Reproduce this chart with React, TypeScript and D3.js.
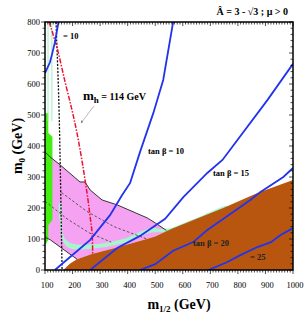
import React from 'react';
import * as d3 from 'd3';

// tan beta contours [m1/2, m0]
const tb10Top = [[100, 635], [118, 670], [125, 694], [136, 735], [149, 800]];
const tb10 = [[136, 0], [191, 42], [264, 97], [336, 177], [380, 242], [409, 281], [445, 381], [493, 506], [529, 613], [565, 800]];
const tb15 = [[264, 0], [362, 71], [445, 110], [536, 165], [602, 235], [689, 313], [744, 355], [907, 548], [1000, 665]];
const tb20 = [[445, 0], [500, 19], [565, 62], [638, 90], [689, 129], [809, 203], [845, 226], [882, 252], [965, 300], [1000, 329]];
const tb25 = [[693, 0], [760, 25], [809, 48], [871, 74], [920, 90], [955, 113], [1000, 135]];

// m_h = 114 GeV contour
const higgs = [[115, 800], [144, 716], [173, 606], [198, 516], [216, 442], [238, 332], [256, 226], [264, 170], [271, 119], [273, 48]];
// black dashed vertical
const chargino = [[140, 800], [150, 550], [155, 350], [158, 200], [160, 100], [162, 0]];
// grey dashed
const dashA = [[100, 222], [180, 165], [260, 120], [340, 90]];
const dashB = [[160, 250], [250, 190], [350, 140], [470, 100]];

// regions
const stauEdge = [[167, 0], [190, 20], [216, 35], [270, 52], [340, 68], [450, 95], [500, 108], [540, 125], [565, 135], [650, 165], [747, 200], [871, 248], [1000, 290]];
const pinkTop = [[100, 381], [118, 365], [155, 339], [227, 284], [245, 284], [264, 258], [307, 226], [362, 210], [471, 168], [500, 152], [540, 128]];
const pinkLow = [[216, 35], [155, 74], [120, 97], [100, 106]];
const greenReg = [[100, 506], [112, 506], [112, 442], [127, 430], [127, 161], [112, 145], [112, 97], [100, 80]];
const coannUpper = [[158, 215], [160, 150], [168, 108], [190, 88], [264, 82], [382, 100], [482, 135], [540, 133], [650, 168], [760, 207]];
const coannLower = [[760, 200], [650, 161], [540, 124], [482, 120], [382, 86], [264, 68], [185, 72], [162, 100], [154, 150], [152, 215]];
const greenLines = [111, 125];

const xTicks = [100, 200, 300, 400, 500, 600, 700, 800, 900, 1000];
const yTicks = [0, 100, 200, 300, 400, 500, 600, 700, 800];

const W = 304, H = 319;
const x = d3.scaleLinear().domain([100, 1000]).range([45, 293]);
const y = d3.scaleLinear().domain([0, 800]).range([270, 22]);

const line = d3.line<number[]>().x(d => x(d[0])).y(d => y(d[1])).curve(d3.curveLinear);
const smooth = d3.line<number[]>().x(d => x(d[0])).y(d => y(d[1])).curve(d3.curveCatmullRom);
const poly = (pts: number[][]) => line(pts) + 'Z';
const polySmooth = (pts: number[][]) => d3.line<number[]>().x(d => x(d[0])).y(d => y(d[1])).curve(d3.curveCatmullRomClosed)(pts)!;

export default function App() {
  const brown = poly([...stauEdge, [1000, 0], [167, 0]]);
  const pink = poly([...pinkTop, ...stauEdge.filter(p => p[0] >= 216 && p[0] <= 540).reverse(), ...pinkLow.slice(1)]);
  const coann = polySmooth([...coannUpper, ...coannLower]);
  const minorX = d3.range(100, 1001, 10);
  const minorY = d3.range(0, 801, 20);
  const serif = '"Liberation Serif", "DejaVu Serif", serif';
  return (
    <div style={{ position: 'absolute', left: 0, top: 0 }}>
      <svg width={W} height={H} style={{ display: 'block', background: '#fff' }} fontFamily={serif}>
        <defs>
          <clipPath id="plot"><rect x={45} y={22} width={248} height={248} /></clipPath>
          <marker id="arr" viewBox="0 0 10 10" refX="9" refY="5" markerWidth="5" markerHeight="5" orient="auto">
            <path d="M0,0L10,5L0,10Z" fill="#888" />
          </marker>
        </defs>
        <g clipPath="url(#plot)">
          <path d={pink} fill="#f5a2f2" />
          <path d={coann} fill="#a6f5cc" />
          <path d={brown} fill="#b8560f" />
          <path d={poly(greenReg)} fill="#44ee11" />
          {greenLines.map(v => (
            <line key={v} x1={x(v)} x2={x(v)} y1={y(800)} y2={y(480)} stroke="#9deec0" strokeWidth={1} />
          ))}
          <path d={line(pinkTop)!} fill="none" stroke="#333" strokeWidth={1} />
          <path d={line(pinkLow)!} fill="none" stroke="#333" strokeWidth={1} />
          <path d={line(dashA)!} fill="none" stroke="#555" strokeWidth={1} strokeDasharray="2.5,2" />
          <path d={line(dashB)!} fill="none" stroke="#555" strokeWidth={1} strokeDasharray="2.5,2" />
          <path d={smooth(chargino)!} fill="none" stroke="#111" strokeWidth={1.3} strokeDasharray="2,1.5" />
          <path d={smooth(higgs)!} fill="none" stroke="#ee1133" strokeWidth={1.5} strokeDasharray="5,1.5,1.5,1.5" />
          {[tb10Top, tb10, tb15, tb20, tb25].map((s, i) => (
            <path key={i} d={line(s)!} fill="none" stroke="#2233ee" strokeWidth={1.8} />
          ))}
        </g>
        {/* frame and ticks */}
        <rect x={45} y={22} width={248} height={248} fill="none" stroke="#000" strokeWidth={1.5} />
        {minorX.map(v => (
          <g key={'x' + v}>
            <line x1={x(v)} x2={x(v)} y1={270} y2={v % 100 === 0 ? 274 : 272.5} stroke="#000" strokeWidth={0.7} />
            <line x1={x(v)} x2={x(v)} y1={22} y2={v % 100 === 0 ? 26 : 24.5} stroke="#000" strokeWidth={0.7} />
          </g>
        ))}
        {minorY.map(v => (
          <g key={'y' + v}>
            <line x1={45} x2={v % 100 === 0 ? 41 : 42.5} y1={y(v)} y2={y(v)} stroke="#000" strokeWidth={0.7} />
            <line x1={293} x2={v % 100 === 0 ? 289 : 290.5} y1={y(v)} y2={y(v)} stroke="#000" strokeWidth={0.7} />
          </g>
        ))}
        {xTicks.map(v => (
          <text key={v} x={x(v) + 2} y={288} fontSize={8.5} textAnchor="middle">{v}</text>
        ))}
        {yTicks.map(v => (
          <text key={v} x={40} y={y(v) + 3} fontSize={8.5} textAnchor="end">{v}</text>
        ))}
        {/* axis titles */}
        <text x={179} y={309} fontSize={14} fontWeight="bold" textAnchor="middle">
          m<tspan fontSize={9} dy={3}>1/2</tspan><tspan dy={-3}> (GeV)</tspan>
        </text>
        <text transform="translate(22,146) rotate(-90)" fontSize={14} fontWeight="bold" textAnchor="middle">
          m<tspan fontSize={9} dy={3}>0</tspan><tspan dy={-3}> (GeV)</tspan>
        </text>
        <text x={288} y={15} fontSize={10} fontWeight="bold" textAnchor="end">Â = 3 - √3 ; μ &gt; 0</text>
        {/* labels */}
        <text x={83} y={100} fontSize={13} fontWeight="bold">m<tspan fontSize={9} dy={3}>h</tspan><tspan fontSize={10} dy={-3}>  = 114 GeV</tspan></text>
        <line x1={94} y1={106} x2={81} y2={123} stroke="#888" strokeWidth={0.6} markerEnd="url(#arr)" />
        <text x={63} y={39} fontSize={8.5} fontWeight="bold">= 10</text>
        <text x={148} y={154} fontSize={8.5} fontWeight="bold">tan β = 10</text>
        <text x={213} y={176} fontSize={8.5} fontWeight="bold">tan β = 15</text>
        <text x={193} y={246} fontSize={8.5} fontWeight="bold" fill="#222">tan β = 20</text>
        <text x={250} y={260} fontSize={8.5} fontWeight="bold" fill="#222">= 25</text>
      </svg>
    </div>
  );
}
